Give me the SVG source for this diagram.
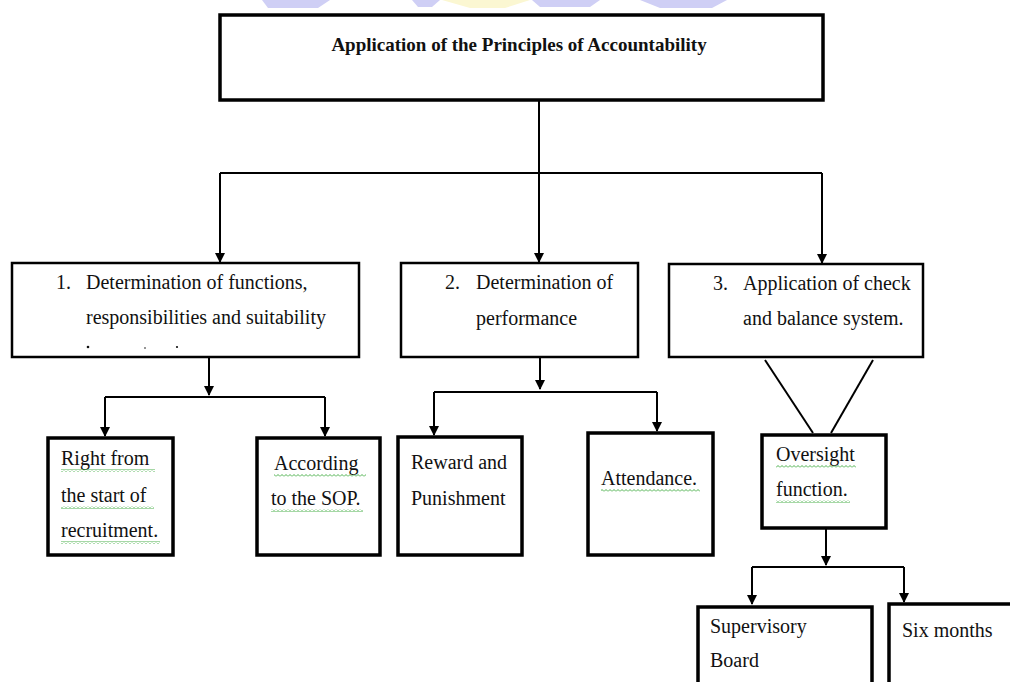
<svg xmlns="http://www.w3.org/2000/svg" width="1010" height="682" viewBox="0 0 1010 682">
<defs>
<style>
.box{fill:#fff;stroke:#000;stroke-width:2.5}
.tbox{fill:#fff;stroke:#000;stroke-width:3.5}
.t{font-family:"Liberation Serif","Times New Roman",serif;font-size:20px;fill:#111}
.title{font-family:"Liberation Serif","Times New Roman",serif;font-size:19px;font-weight:bold;fill:#111}
.c{fill:none;stroke:#000;stroke-width:2}
.sq{fill:url(#wavy)}
.wm{fill:#cfcff5}
</style>
<marker id="ah" viewBox="0 0 10 10" refX="9" refY="5" markerWidth="10" markerHeight="10" markerUnits="userSpaceOnUse" orient="auto">
<path d="M0 0 L10 5 L0 10 Z" fill="#000"/>
</marker>
<pattern id="wavy" x="0" y="0" width="4" height="3" patternUnits="userSpaceOnUse">
<path d="M0 2.5 L2 0.5 L4 2.5" fill="none" stroke="#3aa83a" stroke-width="0.9"/>
</pattern>
</defs>
<rect width="1010" height="682" fill="#fff"/>
<g id="watermark">
<path class="wm" d="M262 0 L330 0 L318 8 L268 8 Z"/>
<path class="wm" d="M412 0 L440 0 L432 7 L418 7 Z"/>
<path d="M442 0 L530 0 L505 8 L470 8 Z" fill="#fbf7d2"/>
<path class="wm" d="M532 0 L600 0 L590 7 L540 7 Z"/>
<path class="wm" d="M640 0 L727 0 L712 8 L660 8 Z"/>
</g>
<g id="connectors">
<path class="c" d="M539 101 V173"/>
<path class="c" d="M220 173 H822"/>
<path class="c" d="M220 173 V262" marker-end="url(#ah)"/>
<path class="c" d="M539 173 V262" marker-end="url(#ah)"/>
<path class="c" d="M822 173 V263" marker-end="url(#ah)"/>
<path class="c" d="M209 357 V395" marker-end="url(#ah)"/>
<path class="c" d="M105 397 H325"/>
<path class="c" d="M105 397 V436" marker-end="url(#ah)"/>
<path class="c" d="M325 397 V436" marker-end="url(#ah)"/>
<path class="c" d="M540 357 V389" marker-end="url(#ah)"/>
<path class="c" d="M434 392 H657"/>
<path class="c" d="M434 392 V435" marker-end="url(#ah)"/>
<path class="c" d="M657 392 V431" marker-end="url(#ah)"/>
<path class="c" d="M765 360 L813 433"/>
<path class="c" d="M873 360 L831 433"/>
<path class="c" d="M826 528 V565" marker-end="url(#ah)"/>
<path class="c" d="M752 567 H904"/>
<path class="c" d="M752 567 V604" marker-end="url(#ah)"/>
<path class="c" d="M904 567 V602" marker-end="url(#ah)"/>
</g>
<g id="root">
<rect class="tbox" x="220" y="15" width="603" height="85"/>
<text class="title" x="519" y="51" text-anchor="middle">Application of the Principles of Accountability</text>
</g>
<g id="n1">
<rect class="box" x="12" y="263" width="347" height="94"/>
<text class="t" x="56" y="289">1.</text>
<text class="t" x="86" y="289">Determination of functions,</text>
<text class="t" x="86" y="324">responsibilities and suitability</text>
<circle cx="88" cy="347" r="1.3" fill="#111"/>
<circle cx="145" cy="348" r="0.8" fill="#111"/>
<circle cx="177" cy="347" r="1.1" fill="#111"/>
</g>
<g id="n2">
<rect class="box" x="401" y="263" width="237" height="94"/>
<text class="t" x="445" y="289">2.</text>
<text class="t" x="476" y="289">Determination of</text>
<text class="t" x="476" y="325">performance</text>
</g>
<g id="n3">
<rect class="box" x="669" y="264" width="254" height="93"/>
<text class="t" x="713" y="290">3.</text>
<text class="t" x="743" y="290">Application of check</text>
<text class="t" x="743" y="325">and balance system.</text>
</g>
<g id="n1a">
<rect class="tbox" x="48" y="438" width="125" height="117"/>
<text class="t" x="61" y="465">Right from</text>
<rect class="sq" x="61" y="469" width="94" height="3"/>
<text class="t" x="61" y="502">the start of</text>
<rect class="sq" x="61" y="506" width="93" height="3"/>
<text class="t" x="61" y="537">recruitment.</text>
<rect class="sq" x="61" y="541" width="99" height="3"/>
</g>
<g id="n1b">
<rect class="tbox" x="257" y="438" width="123" height="117"/>
<text class="t" x="274" y="470">According</text>
<rect class="sq" x="274" y="474" width="92" height="3"/>
<text class="t" x="271" y="505">to the SOP.</text>
<rect class="sq" x="271" y="509" width="92" height="3"/>
</g>
<g id="n2a">
<rect class="tbox" x="398" y="437" width="124" height="118"/>
<text class="t" x="411" y="469">Reward and</text>
<text class="t" x="411" y="505">Punishment</text>
</g>
<g id="n2b">
<rect class="tbox" x="588" y="433" width="125" height="122"/>
<text class="t" x="601" y="485">Attendance.</text>
<rect class="sq" x="601" y="489" width="99" height="3"/>
</g>
<g id="n3a">
<rect class="tbox" x="762" y="435" width="124" height="93"/>
<text class="t" x="776" y="461">Oversight</text>
<rect class="sq" x="776" y="465" width="80" height="3"/>
<text class="t" x="776" y="496">function.</text>
<rect class="sq" x="776" y="500" width="74" height="3"/>
</g>
<g id="n3a1">
<rect class="tbox" x="698" y="607" width="174" height="90"/>
<text class="t" x="710" y="633">Supervisory</text>
<text class="t" x="710" y="667">Board</text>
</g>
<g id="n3a2">
<rect class="tbox" x="889" y="604" width="140" height="90"/>
<text class="t" x="902" y="637">Six months</text>
</g>
</svg>
